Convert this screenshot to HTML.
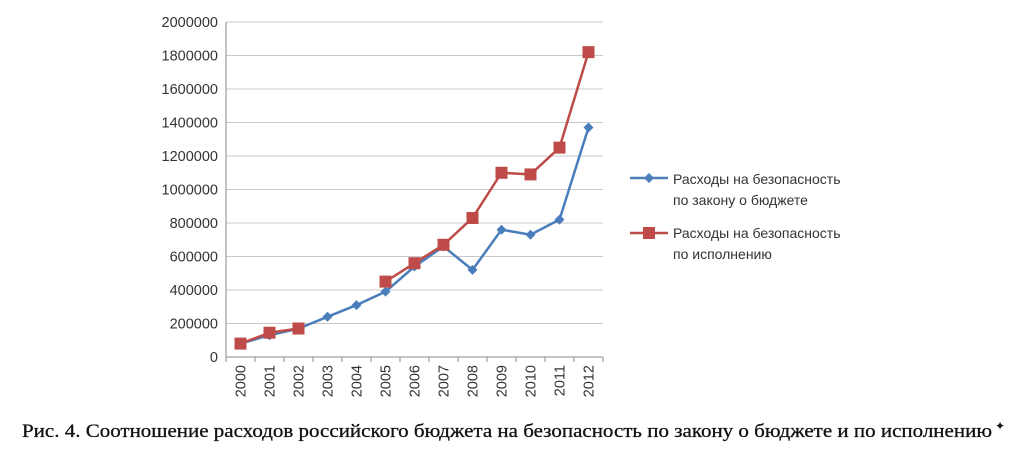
<!DOCTYPE html>
<html><head><meta charset="utf-8"><style>
body{margin:0;background:#fff;width:1024px;height:456px;overflow:hidden}
svg{display:block}
text{font-family:"Liberation Sans","DejaVu Sans",sans-serif}
</style></head><body>
<svg id="c" width="1024" height="456"></svg>
<script>
const categories=["2000","2001","2002","2003","2004","2005","2006","2007","2008","2009","2010","2011","2012"];
const lawValues=[80000,130000,170000,240000,310000,390000,540000,660000,520000,760000,730000,820000,1370000];
const execValues=[80000,145000,170000,null,null,450000,560000,670000,830000,1100000,1090000,1250000,1820000];
const yTicks=[0,200000,400000,600000,800000,1000000,1200000,1400000,1600000,1800000,2000000];
const NS="http://www.w3.org/2000/svg";
const svg=document.getElementById('c');
const X0=226,X1=603,Y0=357,Y1=22,YMAX=2000000;
const bw=(X1-X0)/categories.length;
function xs(i){return X0+bw*(i+0.5);}
function ys(v){return Y0-(v/YMAX)*(Y0-Y1);}
function mk(tag,attrs){const e=document.createElementNS(NS,tag);for(const k in attrs)e.setAttribute(k,attrs[k]);svg.appendChild(e);return e;}
yTicks.forEach(t=>{
  const l=mk('line',{x1:X0,x2:X1,y1:ys(t),y2:ys(t),stroke:t===0?'#888':'#c8c8c8','stroke-width':1});
  
  
  const tx=mk('text',{x:X0-8,y:ys(t)+5,'text-anchor':'end','font-size':14.5,fill:'#333'});
  tx.textContent=String(t);
  
  
});
const ax=mk('line',{x1:X0,x2:X0,y1:Y1,y2:Y0,stroke:'#888'});


for(let i=0;i<=categories.length;i++){
  const tk=mk('line',{x1:X0+bw*i,x2:X0+bw*i,y1:Y0,y2:Y0+5,stroke:'#888'});
  
  
}
categories.forEach((c,i)=>{
  const t=mk('text',{x:0,y:0,'font-size':14.5,fill:'#333','text-anchor':'end',transform:`translate(${xs(i)+5},${Y0+8}) rotate(-90)`});
  t.textContent=c;
  
  
});
function series(vals,color,marker,name){
  let d='';let pen=false;
  vals.forEach((v,i)=>{if(v==null){pen=false;return;}d+=(pen?'L':'M')+xs(i)+' '+ys(v)+' ';pen=true;});
  const p=mk('path',{d:d,fill:'none',stroke:color,'stroke-width':2.5});
  
  
  vals.forEach((v,i)=>{if(v==null)return;
    const x=xs(i),y=ys(v);let m;
    if(marker==='d')m=mk('path',{d:`M${x} ${y-5}L${x+5} ${y}L${x} ${y+5}L${x-5} ${y}Z`,fill:color});
    else m=mk('rect',{x:x-6,y:y-6,width:12,height:12,fill:color});
    
    
  });
}
series(lawValues,'#4a7ebb','d','law-series');
series(execValues,'#be4b48','s','exec-series');
const l1=mk('line',{x1:630,x2:668,y1:178,y2:178,stroke:'#4a7ebb','stroke-width':2.5});

const m1=mk('path',{d:'M649 173L654 178L649 183L644 178Z',fill:'#4a7ebb'});

const l2=mk('line',{x1:630,x2:668,y1:233,y2:233,stroke:'#be4b48','stroke-width':2.5});

const m2=mk('rect',{x:643,y:227,width:12,height:12,fill:'#be4b48'});

[["Расходы на безопасность",673,184],["по закону о бюджете",673,205],["Расходы на безопасность",673,238],["по исполнению",673,259]].forEach(a=>{
  const t=mk('text',{x:a[1],y:a[2],'font-size':14,fill:'#333'});t.textContent=a[0];
  
  
});
const cap=mk('text',{x:22,y:437,'font-size':19,fill:'#111',stroke:'#111','stroke-width':0.3,textLength:970,lengthAdjust:'spacingAndGlyphs'});
cap.setAttribute('style','font-family:"Liberation Serif",serif');
cap.textContent='Рис. 4. Соотношение расходов российского бюджета на безопасность по закону о бюджете и по исполнению';


const st=mk('text',{x:995,y:430,'font-size':12,fill:'#111'});st.textContent='✦';


</script>
</body></html>
